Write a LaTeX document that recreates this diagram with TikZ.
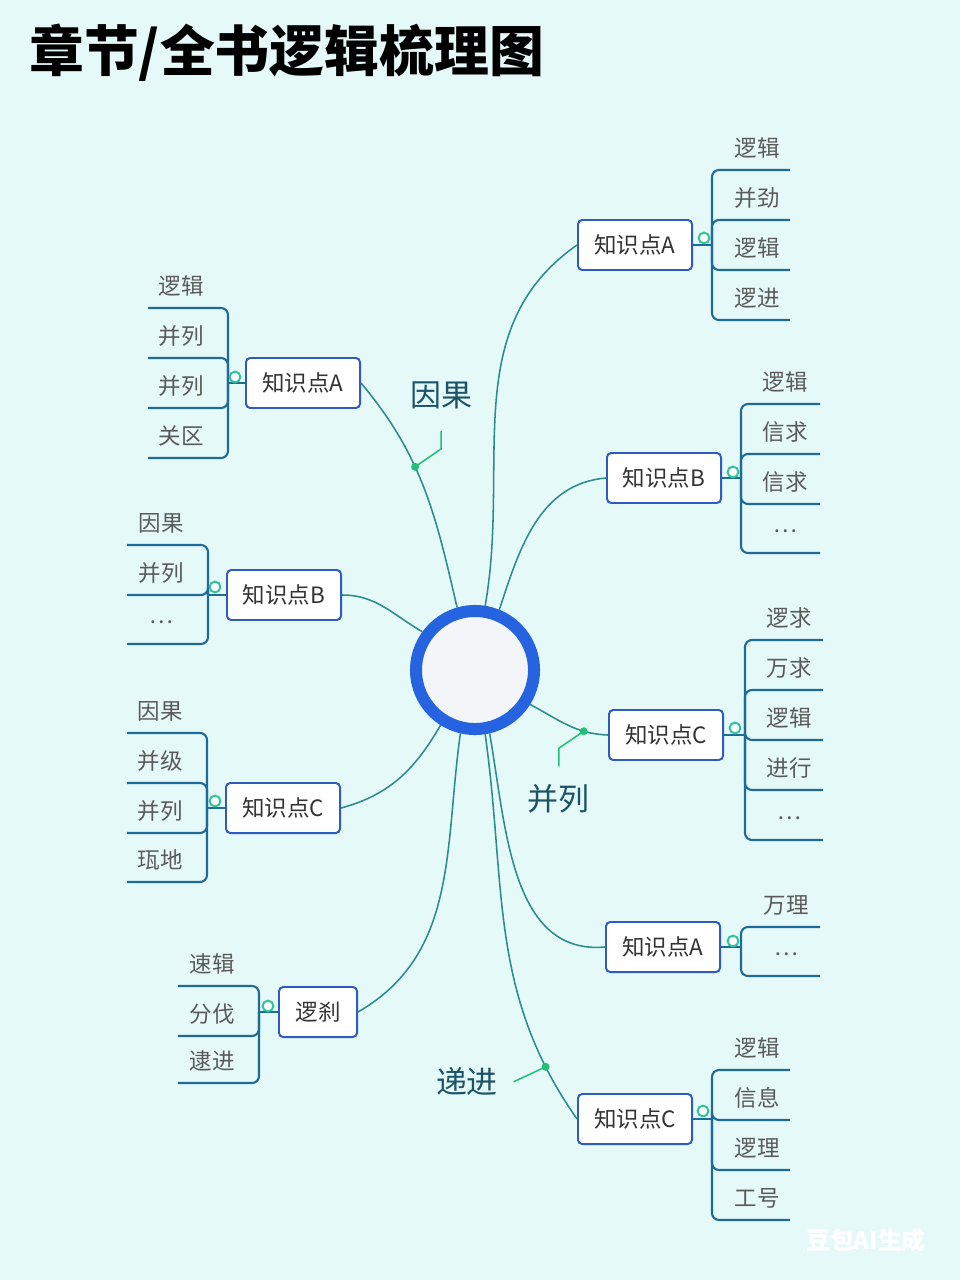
\documentclass[tikz,border=0pt]{standalone}
\usepackage{fontspec}
\setmainfont{Noto Sans CJK SC}
\usetikzlibrary{positioning}

\definecolor{bgcol}{HTML}{E5F9F8}
\definecolor{ringblue}{HTML}{2563E0}
\definecolor{ringfill}{HTML}{F3F5F9}
\definecolor{boxblue}{HTML}{2D5BC0}
\definecolor{linkteal}{HTML}{2B8C8C}
\definecolor{leafblue}{HTML}{1F6B98}
\definecolor{leafgray}{HTML}{5A5A5A}
\definecolor{kptext}{HTML}{333333}
\definecolor{reltext}{HTML}{1B5468}
\definecolor{dotgreen}{HTML}{23C07A}
\definecolor{knobgreen}{HTML}{2FC49A}

\tikzset{
  kp/.style={draw=boxblue, line width=1.4pt, fill=white, rounded corners=3pt,
    minimum width=2.85cm, minimum height=1.25cm, inner sep=0pt,
    font=\fontsize{16}{16}\selectfont, text=kptext},
  link/.style={draw=linkteal, line width=1.1pt},
  leaf/.style={draw=leafblue, line width=1.5pt, rounded corners=5pt},
  lbl/.style={font=\fontsize{16}{16}\selectfont, text=leafgray, inner sep=1pt},
  rel/.style={font=\fontsize{22}{22}\selectfont, text=reltext, inner sep=1pt},
  knob/.style={circle, draw=knobgreen, line width=1.4pt, fill=white, inner sep=0pt, minimum size=0.27cm},
  dot/.style={circle, fill=dotgreen, inner sep=0pt, minimum size=0.2cm},
  lead/.style={draw=dotgreen, line width=1.1pt}
}

\begin{document}
\begin{tikzpicture}[x=0.025cm, y=-0.025cm]
\fill [bgcol] (0,0) rectangle (960,1280);
\useasboundingbox (0,0) rectangle (960,1280);

% title
\node [anchor=west, inner sep=0pt, font=\fontsize{39}{39}\selectfont\bfseries] (title) at (29,53) {章节/全书逻辑梳理图};

% hub
\node [circle, draw=ringblue, line width=0.3cm, fill=ringfill, minimum size=2.95cm, inner sep=0pt] (hub) at (475,670) {};

% knowledge points, right
\node [kp] (ra) at (635,245)  {知识点A};
\node [kp] (rb) at (664,478)  {知识点B};
\node [kp] (rc) at (666,735)  {知识点C};
\node [kp] (rd) at (663,947)  {知识点A};
\node [kp] (re) at (635,1119) {知识点C};
% knowledge points, left
\node [kp] (la) at (303,383)  {知识点A};
\node [kp] (lb) at (284,595)  {知识点B};
\node [kp] (lc) at (283,808)  {知识点C};
\node [kp, minimum width=1.95cm] (ld) at (318,1012) {逻刹};

% links from hub
\draw [link] (hub.81)  to [out=80, in=215]  (ra.west);
\draw [link] (hub.68)  to [out=72, in=185]  (rb.west);
\draw [link] (hub.-32) to [out=-28, in=178] node [dot, pos=0.72] (d2) {} (rc.west);
\draw [link] (hub.-77) to [out=-80, in=185] (rd.west);
\draw [link] (hub.-81) to [out=-82, in=125] node [dot, pos=0.86] (d3) {} (re.west);
\draw [link] (hub.106) to [out=103, in=-50] node [dot, pos=0.6] (d1) {} (la.east);
\draw [link] (hub.144) to [out=150, in=0]   (lb.east);
\draw [link] (hub.238) to [out=240, in=15]  (lc.east);
\draw [link] (hub.257) to [out=262, in=30]  (ld.east);

% relation labels
\draw [lead] (d1.center) -- ++(26,-18) -- ++(0,-18) coordinate (d1t);
\node [rel, above=0.5cm of d1t] (c1) {因果};
\draw [lead] (d2.center) -- ++(-25,17) -- ++(0,18) coordinate (d2t);
\node [rel, below=0.42cm of d2t] (c2) {并列};
\draw [lead] (d3.center) -- ++(-32,15) coordinate (d3t);
\node [rel, left=0.35cm of d3t] (c3) {递进};

% leaves, right side
\draw [leaf] (ra.east) -- (712,245);
\foreach \y/\t in {170/逻辑,220/并劲,270/逻辑,320/逻进} {
  \draw [leaf] (712,245) -- (712,\y) -- (790,\y);
  \node [lbl] (ra-\y) at (757,\y-22) {\t};
}
\node [knob] (ka) at (704,238) {};

\draw [leaf] (rb.east) -- (741,478);
\foreach \y/\t in {404/逻辑,454/信求,504/信求,553/…} {
  \draw [leaf] (741,478) -- (741,\y) -- (820,\y);
  \node [lbl] (rb-\y) at (785,\y-22) {\t};
}
\node [knob] (kb) at (733,472) {};

\draw [leaf] (rc.east) -- (745,735);
\foreach \y/\t in {640/逻求,690/万求,740/逻辑,790/进行,840/…} {
  \draw [leaf] (745,735) -- (745,\y) -- (823,\y);
  \node [lbl] (rc-\y) at (789,\y-22) {\t};
}
\node [knob] (kc) at (735,728) {};

\draw [leaf] (rd.east) -- (741,947);
\foreach \y/\t in {927/万理,976/…} {
  \draw [leaf] (741,947) -- (741,\y) -- (820,\y);
  \node [lbl] (rd-\y) at (786,\y-22) {\t};
}
\node [knob] (kd) at (733,941) {};

\draw [leaf] (re.east) -- (712,1119);
\foreach \y/\t in {1070/逻辑,1120/信息,1170/逻理,1220/工号} {
  \draw [leaf] (712,1119) -- (712,\y) -- (790,\y);
  \node [lbl] (re-\y) at (757,\y-22) {\t};
}
\node [knob] (ke) at (703,1111) {};

% leaves, left side
\draw [leaf] (la.west) -- (228,383);
\foreach \y/\t in {308/逻辑,358/并列,408/并列,458/关区} {
  \draw [leaf] (228,383) -- (228,\y) -- (148,\y);
  \node [lbl] (la-\y) at (181,\y-22) {\t};
}
\node [knob] (kf) at (235,377) {};

\draw [leaf] (lb.west) -- (208,595);
\foreach \y/\t in {545/因果,595/并列,644/…} {
  \draw [leaf] (208,595) -- (208,\y) -- (127,\y);
  \node [lbl] (lb-\y) at (161,\y-22) {\t};
}
\node [knob] (kg) at (215,587) {};

\draw [leaf] (lc.west) -- (207,808);
\foreach \y/\t in {733/因果,783/并级,833/并列,882/珁地} {
  \draw [leaf] (207,808) -- (207,\y) -- (127,\y);
  \node [lbl] (lc-\y) at (160,\y-22) {\t};
}
\node [knob] (kh) at (215,801) {};

\draw [leaf] (ld.west) -- (259,1012);
\foreach \y/\t in {986/速辑,1036/分伐,1083/逮进} {
  \draw [leaf] (259,1012) -- (259,\y) -- (178,\y);
  \node [lbl] (ld-\y) at (212,\y-22) {\t};
}
\node [knob] (ki) at (268,1006) {};

% watermark
\node [text=white, font=\fontsize{17}{17}\selectfont\bfseries] (wm) at (866,1240) {豆包AI生成};
\end{tikzpicture}
\end{document}
